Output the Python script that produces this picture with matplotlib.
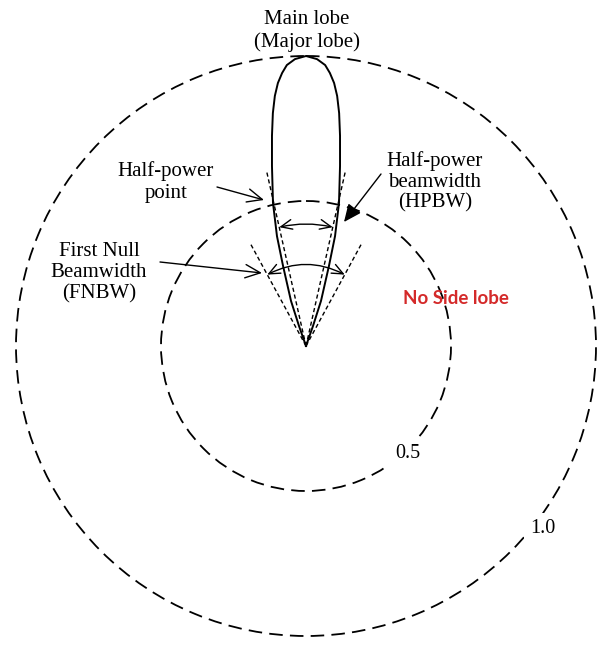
import numpy as np
import matplotlib

matplotlib.use("Agg")
import matplotlib.pyplot as plt

W, H = 597, 648

# main lobe, right half: angle from boresight (deg) and normalised field
# the left half is the mirror image
lobe_deg = [0.0, 2.2, 3.9, 5.0, 6.1, 7.1, 8.1, 9.2, 10.7, 13.0, 14.8, 16.0, 18.4, 19.3, 20.0]
lobe_r = [1.0, 0.99, 0.971, 0.945, 0.912, 0.869, 0.811, 0.734, 0.632, 0.506, 0.392, 0.287, 0.164, 0.073, 0.0]

ring_r = [0.5, 1.0]
ring_labels = ["0.5", "1.0"]
ring_label_deg = [136.6, 127.6]
ring_label_r = [0.51, 1.03]

hpbw_half_deg = 12.7
fnbw_half_deg = 28.5
hp_line_r = 0.62
fn_line_r = 0.40
hp_arc_r = 0.42
fn_arc_r = 0.28

plt.rcParams["font.family"] = "Liberation Serif"


def fpos(x, y):
    # image pixel (top-left origin) -> figure fraction
    return (x / W, 1 - y / H)


fig = plt.figure(figsize=(W / 100, H / 100), dpi=100)
fig.patch.set_facecolor("white")

# polar axes: centre at (306, 346) px, r=1 -> 290 px
rmax = 1.03
cx, cy, R = 306, 346, 290
half_w = R * rmax / W
half_h = R * rmax / H
ax = fig.add_axes([cx / W - half_w, 1 - cy / H - half_h, 2 * half_w, 2 * half_h], projection="polar")
ax.set_theta_zero_location("N")
ax.set_theta_direction(-1)
ax.set_rlim(0, rmax)
ax.set_xticks([])
ax.set_yticks(ring_r)
ax.set_yticklabels([])
ax.yaxis.grid(True, color="black", linestyle=(0, (7.5, 4)), linewidth=1.3)
ax.spines["polar"].set_visible(False)
ax.set_facecolor("white")

# main lobe
th = np.deg2rad(np.array(lobe_deg))
rr = np.array(lobe_r)
ax.plot(np.concatenate([-th[::-1], th]), np.concatenate([rr[::-1], rr]), color="black", lw=1.4)

# beamwidth guide lines
for d, rl in [(hpbw_half_deg, hp_line_r), (fnbw_half_deg, fn_line_r)]:
    for s in (-1, 1):
        a = np.deg2rad(s * d)
        ax.plot([a, a], [0, rl], color="black", lw=1.0, linestyle=(0, (3, 2)))

# beamwidth arcs with double arrows
for d, rarc in [(hpbw_half_deg, hp_arc_r), (fnbw_half_deg, fn_arc_r)]:
    a = np.deg2rad(d)
    ax.annotate("", xy=(a, rarc), xytext=(-a, rarc),
                arrowprops=dict(arrowstyle="<->,head_length=0.8,head_width=0.35",
                                connectionstyle=f"arc3,rad={-np.tan(a / 2):.3f}",
                                color="black", lw=1.0, shrinkA=0, shrinkB=0))

# ring labels
for lab, d, r in zip(ring_labels, ring_label_deg, ring_label_r):
    ax.text(np.deg2rad(d), r, lab, ha="center", va="center", fontsize=14.5,
            bbox=dict(facecolor="white", edgecolor="none", pad=4), zorder=5)

# text labels
fig.text(*fpos(307, 31), "Main lobe\n(Major lobe)", ha="center", va="center", fontsize=15, linespacing=1.2)
fig.text(*fpos(166, 182), "Half-power\npoint", ha="center", va="center", fontsize=15, linespacing=1.2)
fig.text(*fpos(99, 273), "First Null\nBeamwidth\n(FNBW)", ha="center", va="center", fontsize=15, linespacing=1.15)
fig.text(*fpos(435, 182), "Half-power\nbeamwidth\n(HPBW)", ha="center", va="center", fontsize=15, linespacing=1.1)
fig.text(*fpos(456, 298), "No Side lobe", ha="center", va="center", fontsize=13.5,
         family="Lato", weight="bold", color="#d42a2a")

# pointer arrows
arrows = [((217, 187), (264, 200), "->"), ((160, 262), (262, 273), "->"), ((381, 174), (344, 222), "-|>")]
for start, end, style in arrows:
    fig.add_artist(matplotlib.patches.FancyArrowPatch(
        fpos(*start), fpos(*end), transform=fig.transFigure,
        arrowstyle=f"{style},head_length=0.9,head_width=0.4", mutation_scale=12,
        color="black", lw=1.0, shrinkA=0, shrinkB=0))

fig.savefig("out.png", dpi=100, facecolor="white")
